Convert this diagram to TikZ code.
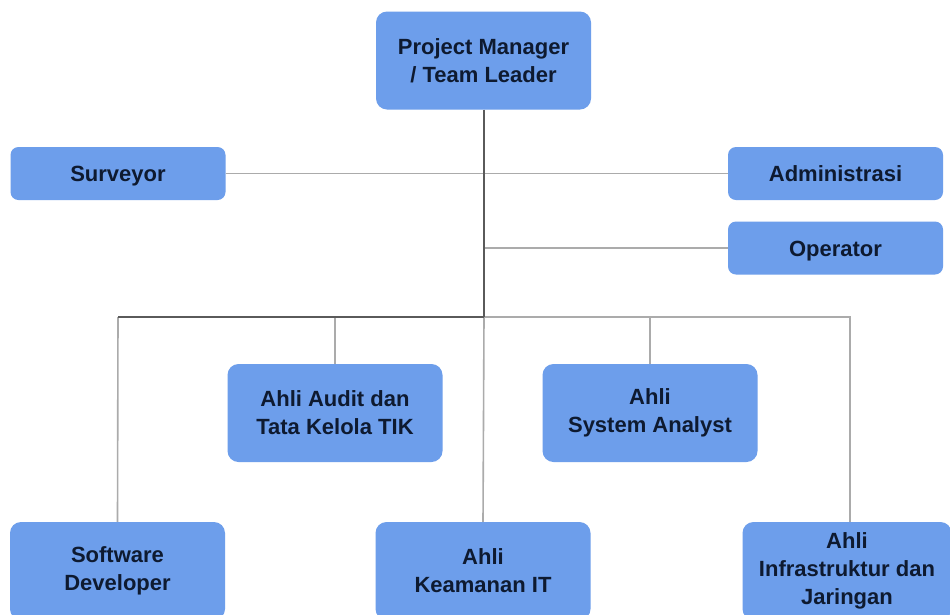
\documentclass[tikz,border=0pt]{standalone}
\usepackage{fontspec}
\setmainfont{Liberation Sans}
\definecolor{boxblue}{HTML}{6D9EEB}
\definecolor{txt}{HTML}{0E1A30}
\definecolor{darkline}{HTML}{5A5A5A}
\definecolor{lightline}{HTML}{ABABAB}
\begin{document}
\begin{tikzpicture}[x=1pt,y=-1pt,
  role/.style={rectangle, rounded corners=11pt, fill=boxblue, draw=none,
    minimum width=215pt, align=center, text=txt,
    font=\fontsize{22}{28}\selectfont\bfseries, inner sep=0pt},
  tall/.style={role, minimum height=98pt},
  short/.style={role, minimum height=53pt, rounded corners=8pt,
    text height=16pt, text depth=0pt},
  dk/.style={draw=darkline, line width=2.2pt},
  lt/.style={draw=lightline, line width=1.6pt}]
\useasboundingbox (0,0) rectangle (950,614);
\clip (0,0) rectangle (950,614);
\fill[white] (0,0) rectangle (950,614);

\node[tall]  (pm)   at (483.5,60.5)  {Project Manager\\/ Team Leader};
\node[short] (surv) at (118,173.5)   {Surveyor};
\node[short] (adm)  at (835.5,173.5) {Administrasi};
\node[short] (op)   at (835.5,248)   {Operator};
\node[tall]  (aud)  at (335,413)     {Ahli Audit dan\\Tata Kelola TIK};
\node[tall]  (sa)   at (650,413)     {Ahli\\System Analyst};
\node[tall]  (sd)   at (117.5,571)   {Software\\Developer};
\node[tall]  (kit)  at (483,571)     {Ahli\\Keamanan IT};
\node[tall, minimum width=209pt] (inf) at (847,571) {Ahli\\Infrastruktur dan\\Jaringan};

\coordinate (hub)  at (484,317);
\coordinate (jop)  at (484,248);
\coordinate (jl)   at (118,317);
\coordinate (jr)   at (850,317);

% connectors
\draw[lt] (surv.east) -- (adm.west);
\draw[lt] (jop) -- (op.west);
\draw[lt] (hub) -- (jr) -- (jr |- inf.north);
\draw[lt] (hub) -- (kit.north);
\draw[lt] (jl) -- (sd.north);
\draw[lt] (aud.north |- hub) -- (aud.north);
\draw[lt] (sa.north |- hub) -- (sa.north);
\draw[dk] (hub) -- (jl);
\draw[dk] (pm.south -| hub) -- (hub);
\end{tikzpicture}
\end{document}
